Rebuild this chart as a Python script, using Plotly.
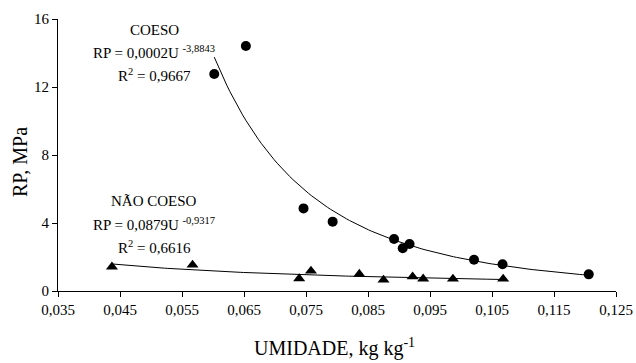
import numpy as np
import plotly.graph_objects as go

# ---- data ----
coeso_x = [0.0602, 0.0653, 0.0746, 0.0793, 0.0892, 0.0906, 0.0917, 0.1021, 0.1067, 0.1206]
coeso_y = [12.76, 14.41, 4.86, 4.08, 3.06, 2.51, 2.76, 1.84, 1.57, 0.98]

nao_x = [0.0437, 0.0567, 0.0739, 0.0758, 0.0836, 0.0875, 0.0922, 0.0939, 0.0987, 0.1068]
nao_y = [1.42, 1.53, 0.73, 1.18, 1.00, 0.65, 0.84, 0.72, 0.71, 0.71]

x_ticks = [0.035, 0.045, 0.055, 0.065, 0.075, 0.085, 0.095, 0.105, 0.115, 0.125]
x_ticktext = ["0,035", "0,045", "0,055", "0,065", "0,075", "0,085", "0,095", "0,105", "0,115", "0,125"]
y_ticks = [0, 4, 8, 12, 16]
y_ticktext = ["0", "4", "8", "12", "16"]


def power_fit(xs, ys):
    b, ln_a = np.polyfit(np.log(xs), np.log(ys), 1)
    return np.exp(ln_a), b


def fit_curve(xs, ys, n=120):
    a, b = power_fit(xs, ys)
    xx = np.linspace(min(xs), max(xs), n)
    return xx, a * xx ** b


FONT = "Liberation Serif"

fig = go.Figure()

cx, cy = fit_curve(coeso_x, coeso_y)
nx, ny = fit_curve(nao_x, nao_y)

fig.add_trace(go.Scatter(x=cx, y=cy, mode="lines", line=dict(color="black", width=1), hoverinfo="skip"))
fig.add_trace(go.Scatter(x=nx, y=ny, mode="lines", line=dict(color="black", width=1), hoverinfo="skip"))
fig.add_trace(go.Scatter(x=coeso_x, y=coeso_y, mode="markers", name="COESO",
                         marker=dict(symbol="circle", size=10, color="black")))
fig.add_trace(go.Scatter(x=nao_x, y=nao_y, mode="markers", name="NÃO COESO",
                         marker=dict(symbol="triangle-up", size=10.5, color="black")))

ann_font = dict(family=FONT, size=15, color="black")


def add_text(txt, px_x, px_y):
    fig.add_annotation(text=txt, xref="paper", yref="paper",
                       x=(px_x - 58) / 558, y=(291 - px_y) / 272,
                       xanchor="center", yanchor="middle", showarrow=False, font=ann_font)


add_text("COESO", 154, 30)
add_text("RP = 0,0002U <sup>-3,8843</sup>", 154, 52)
add_text("R<sup>2</sup> = 0,9667", 154, 75)
add_text("NÃO COESO", 154, 201)
add_text("RP = 0,0879U <sup>-0,9317</sup>", 154, 224)
add_text("R<sup>2</sup> = 0,6616", 154, 247)

fig.add_annotation(text="RP, MPa", xref="paper", yref="paper",
                   x=(20 - 58) / 558, y=(291 - 162) / 272, textangle=-90,
                   xanchor="center", yanchor="middle", showarrow=False,
                   font=dict(family=FONT, size=20, color="black"))
fig.add_annotation(text="UMIDADE, kg kg<sup>-1</sup>", xref="paper", yref="paper",
                   x=(334 - 58) / 558, y=(291 - 347) / 272,
                   xanchor="center", yanchor="middle", showarrow=False,
                   font=dict(family=FONT, size=20, color="black"))

fig.update_layout(
    width=636, height=363, autosize=False,
    margin=dict(l=58, r=20, t=19, b=72),
    paper_bgcolor="white", plot_bgcolor="white",
    showlegend=False,
    font=dict(family=FONT, size=15, color="black"),
    xaxis=dict(range=[0.035, 0.125], tickvals=x_ticks, ticktext=x_ticktext,
               showline=True, linecolor="black", linewidth=1, ticks="outside",
               ticklen=5, tickcolor="black", showgrid=False, zeroline=False,
               automargin=False,
               tickfont=dict(family=FONT, size=15, color="black")),
    yaxis=dict(range=[0, 16], tickvals=y_ticks, ticktext=y_ticktext,
               showline=True, linecolor="black", linewidth=1, ticks="outside",
               ticklen=5, tickcolor="black", showgrid=False, zeroline=False,
               automargin=False,
               tickfont=dict(family=FONT, size=15, color="black")),
)

# remove the page's default body margin so the 636x363 figure fills the window
fig.write_html("out.html", config={"displayModeBar": False},
               post_script="document.body.style.margin='0';document.body.style.overflow='hidden';")
